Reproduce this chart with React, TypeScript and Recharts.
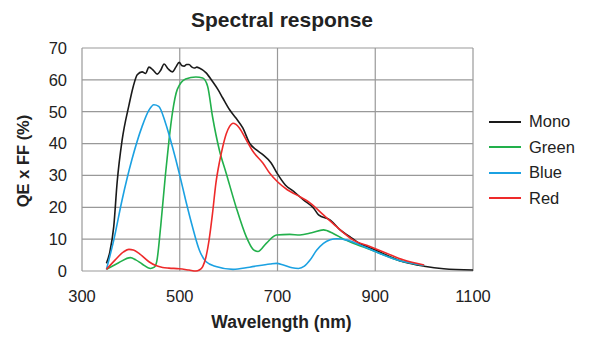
import { LineChart, Line, XAxis, YAxis, CartesianGrid, Legend } from 'recharts'

// wavelengths (nm) and QE x FF (%), one pair of arrays per sensor
const monoNm = [350, 357, 365, 372, 382, 396, 405, 413, 423, 430, 437, 446, 454, 461, 468, 476, 485, 492, 499, 504, 509, 514, 519, 525, 530, 535, 540, 554, 567, 578, 588, 602, 615, 629, 643, 657, 670, 687, 699, 716, 733, 753, 774, 784, 808, 828, 848, 862, 900, 957, 1000, 1040, 1100]
const monoQe = [2.4, 6, 14, 28, 41, 52, 58, 61.6, 62.5, 62, 64, 63, 61.8, 63, 65, 63.5, 62.5, 64, 65.5, 64.5, 64.3, 64.8, 64.8, 64, 63.7, 64, 63.7, 62.2, 59.5, 57, 54.3, 50.6, 48, 44.9, 40.1, 38, 36.5, 33.9, 30.7, 27, 25, 22.3, 19.7, 17.6, 16, 12.9, 10.8, 9.2, 6.6, 2.9, 1.5, 0.7, 0.3]

const greenNm = [350, 375, 399, 410, 423, 440, 448, 453, 461, 471, 478, 485, 495, 512, 533, 547, 557, 567, 581, 595, 615, 636, 650, 660, 677, 698, 725, 746, 770, 794, 814, 835, 855, 876, 900, 944, 1000]
const greenQe = [0.5, 2.6, 4.2, 3.5, 2.2, 0.8, 1.2, 3, 14, 30.7, 41, 49.6, 57, 60.3, 60.9, 60.6, 58, 48.5, 38, 30.7, 20.2, 10.8, 6.8, 6.1, 8.7, 11.3, 11.5, 11.3, 12, 12.9, 11.8, 10, 8.7, 7.5, 6.1, 3.5, 1.7]

const blueNm = [350, 365, 382, 402, 423, 437, 447, 457, 471, 485, 499, 512, 526, 540, 554, 574, 609, 643, 685, 698, 712, 730, 743, 755, 767, 780, 794, 808, 821, 842, 876, 900, 944, 1000]
const blueQe = [0.5, 9.7, 22.3, 34.9, 45.4, 50.5, 52.2, 51.7, 46.4, 39, 30.7, 22.3, 13.9, 6.6, 2.9, 1.4, 0.5, 1.2, 2.2, 2.4, 1.9, 1, 0.8, 1.5, 3.5, 6.5, 8.7, 9.8, 10.1, 9.7, 7.7, 6.1, 3.5, 1.7]

const redNm = [350, 368, 385, 396, 405, 416, 437, 451, 465, 478, 499, 519, 533, 540, 547, 553, 560, 567, 574, 581, 588, 595, 602, 609, 615, 622, 636, 650, 670, 685, 700, 720, 740, 767, 794, 821, 855, 889, 923, 957, 1000]
const redQe = [0.5, 3.5, 6, 6.8, 6.6, 5.6, 2.9, 1.7, 1.1, 0.9, 0.7, 0.3, 0, 0.3, 1.4, 4, 9.7, 18, 27.6, 34, 39, 43, 45.4, 46.4, 46, 44.9, 41.2, 37.5, 33.9, 30.5, 28, 25.5, 23.8, 21.3, 17.6, 13.9, 9.7, 7.7, 5.6, 3.5, 1.9]

const xTicks = [300, 500, 700, 900, 1100]
const yTicks = [0, 10, 20, 30, 40, 50, 60, 70]

const toPoints = (nm: number[], qe: number[]) => nm.map((w, i) => ({ nm: w, qe: qe[i] }))

const SERIES = [
  { name: 'Mono', color: '#1a1a1a', data: toPoints(monoNm, monoQe) },
  { name: 'Green', color: '#22b04b', data: toPoints(greenNm, greenQe) },
  { name: 'Blue', color: '#1ba1e2', data: toPoints(blueNm, blueQe) },
  { name: 'Red', color: '#ee2a2a', data: toPoints(redNm, redQe) },
]

const FONT = '"Liberation Sans", Arial, sans-serif'

function LegendBox() {
  return (
    <div style={{ position: 'absolute', left: 489, top: 109, fontFamily: FONT, fontSize: 16.5, color: '#222' }}>
      {SERIES.map((s) => (
        <div key={s.name} style={{ display: 'flex', alignItems: 'center', height: 25.5 }}>
          <span style={{ width: 32, height: 2, background: s.color, marginRight: 8 }} />
          <span>{s.name}</span>
        </div>
      ))}
    </div>
  )
}

export default function App() {
  const tick = { fill: '#222', fontSize: 16.5, fontFamily: FONT }
  return (
    <div style={{ position: 'absolute', left: 0, top: 0, width: 598, height: 355, background: '#fff', fontFamily: FONT }}>
      <div style={{ position: 'absolute', left: 0, width: 564, top: 8, textAlign: 'center', fontWeight: 'bold', fontSize: 21, color: '#222' }}>
        Spectral response
      </div>
      <div
        style={{
          position: 'absolute', left: 23, top: 161, transform: 'translate(-50%, -50%) rotate(-90deg)',
          whiteSpace: 'nowrap', fontWeight: 'bold', fontSize: 16.5, color: '#222',
        }}
      >
        QE x FF (%)
      </div>
      <div style={{ position: 'absolute', left: 0, width: 563, top: 312, textAlign: 'center', fontWeight: 'bold', fontSize: 17.5, color: '#222' }}>
        Wavelength (nm)
      </div>
      <LineChart width={598} height={355} margin={{ top: 48, right: 125, left: 0, bottom: 0 }}>
        <CartesianGrid stroke="#999" strokeWidth={1.2} />
        <XAxis
          type="number"
          dataKey="nm"
          domain={[300, 1100]}
          ticks={xTicks}
          axisLine={false}
          tickLine={false}
          tickMargin={13}
          height={84}
          tick={tick}
        />
        <YAxis
          type="number"
          domain={[0, 70]}
          ticks={yTicks}
          axisLine={false}
          tickLine={false}
          tickMargin={9}
          width={82}
          tick={tick}
        />
        {SERIES.map((s) => (
          <Line
            key={s.name}
            data={s.data}
            dataKey="qe"
            name={s.name}
            type="monotone"
            stroke={s.color}
            strokeWidth={1.6}
            dot={false}
            isAnimationActive={false}
          />
        ))}
        <Legend content={() => null} />
      </LineChart>
      <LegendBox />
    </div>
  )
}
